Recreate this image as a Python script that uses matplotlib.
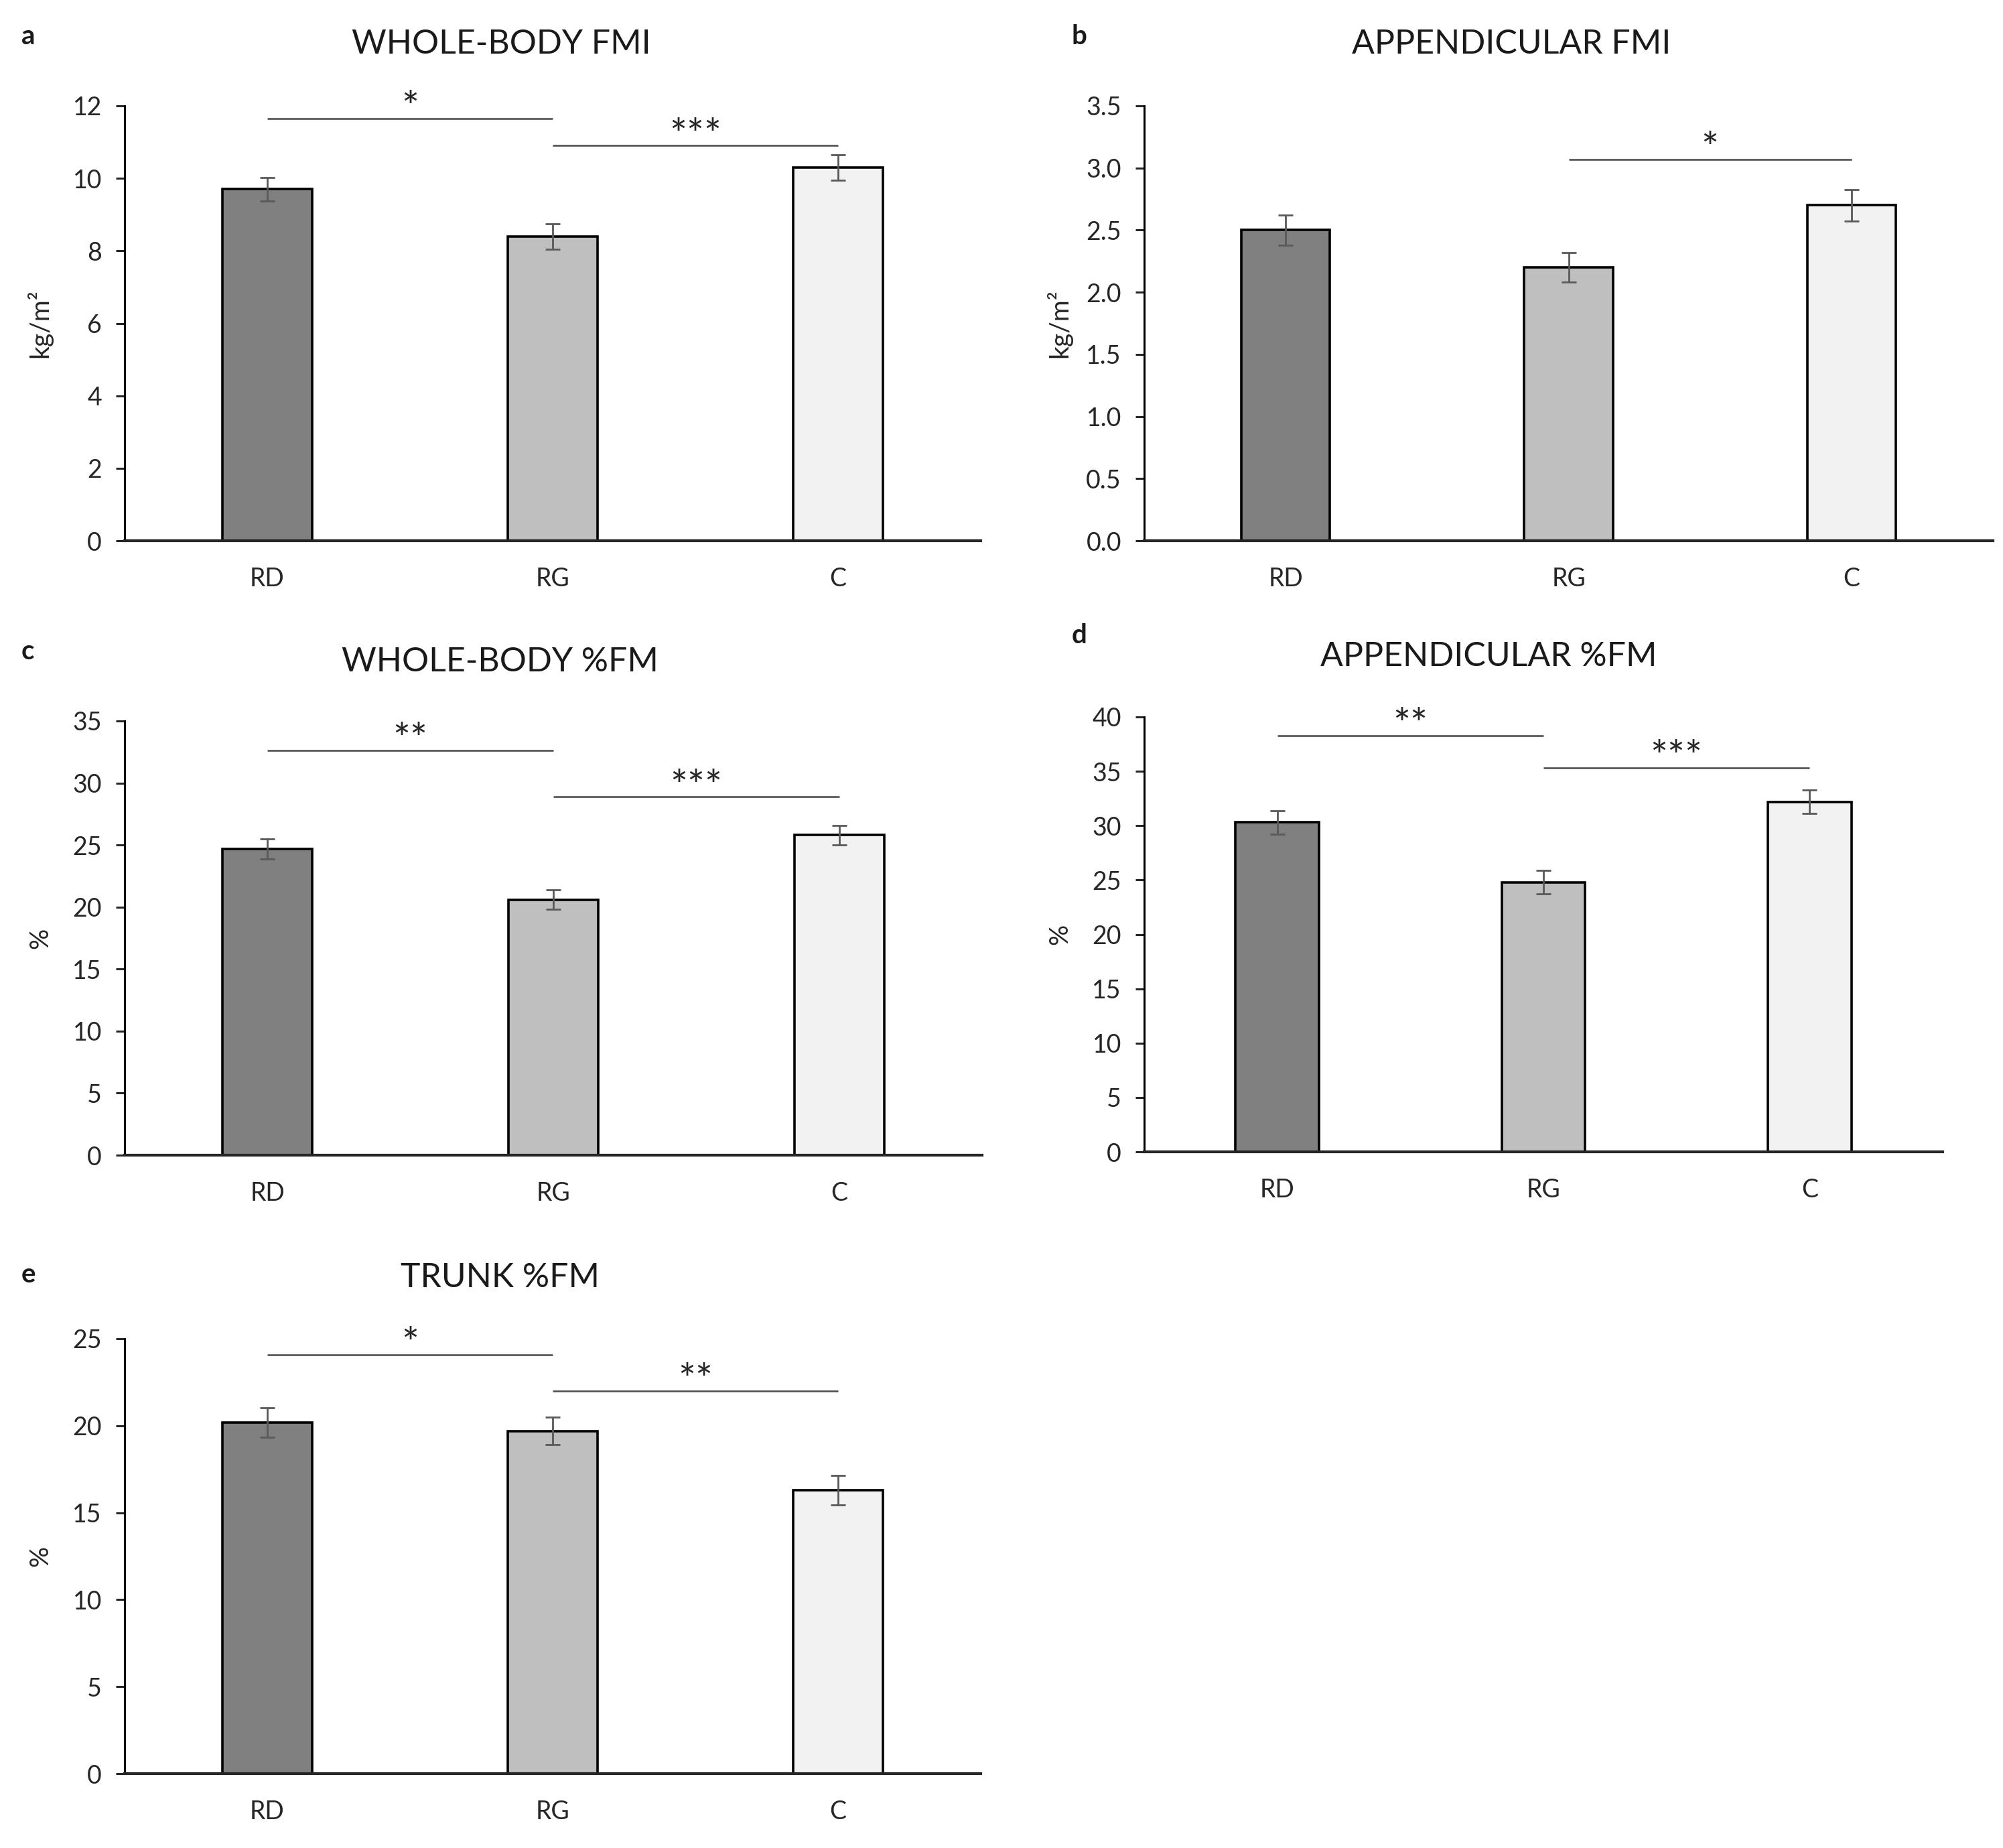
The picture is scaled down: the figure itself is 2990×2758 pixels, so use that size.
import matplotlib.pyplot as plt

plt.rcParams['font.family'] = ['Lato', 'DejaVu Sans']

groups = ['RD', 'RG', 'C']
bar_colors = ['#808080', '#bfbfbf', '#f2f2f2']

# values (mean and error)
wb_fmi = [9.7, 8.4, 10.3]
wb_fmi_err = [0.33, 0.35, 0.35]
app_fmi = [2.5, 2.2, 2.7]
app_fmi_err = [0.12, 0.12, 0.125]
wb_fm = [24.7, 20.6, 25.8]
wb_fm_err = [0.8, 0.8, 0.8]
app_fm = [30.3, 24.8, 32.2]
app_fm_err = [1.1, 1.1, 1.1]
trunk_fm = [20.2, 19.7, 16.3]
trunk_fm_err = [0.85, 0.8, 0.85]

# significance lines: (from group, to group, height, stars)
sig_a = [(0, 1, 11.65, '*'), (1, 2, 10.9, '***')]
sig_b = [(1, 2, 3.07, '*')]
sig_c = [(0, 1, 32.65, '**'), (1, 2, 28.87, '***')]
sig_d = [(0, 1, 38.3, '**'), (1, 2, 35.3, '***')]
sig_e = [(0, 1, 24.07, '*'), (1, 2, 22.0, '**')]

W, H = 2990, 2758
fig = plt.figure(figsize=(W / 100, H / 100), dpi=100)


def panel(box, vals, errs, sigs, ymax, ystep, ylabel, fmt):
    left, top, right, bottom = box
    ax = fig.add_axes([left / W, 1 - bottom / H, (right - left) / W, (bottom - top) / H])
    ax.bar(range(3), vals, width=0.314, color=bar_colors, edgecolor='black', linewidth=2.6, zorder=2)
    ax.errorbar(range(3), vals, yerr=errs, fmt='none', ecolor='#595959', elinewidth=2,
                capsize=8, capthick=2, zorder=3)
    for i, j, h, stars in sigs:
        ax.plot([i, j], [h, h], color='#505050', lw=1.9, solid_capstyle='butt')
        ax.annotate(stars, ((i + j) / 2, h), xytext=(0, -3), textcoords='offset points',
                    ha='center', va='baseline', fontsize=44, color='#262626')
    ax.set_xlim(-0.5, 2.5)
    ax.set_ylim(0, ymax)
    ticks = [k * ystep for k in range(int(round(ymax / ystep)) + 1)]
    ax.set_yticks(ticks)
    ax.set_yticklabels([fmt.format(t) for t in ticks])
    ax.set_xticks(range(3))
    ax.set_xticklabels(groups)
    for s in ['top', 'right']:
        ax.spines[s].set_visible(False)
    ax.spines['left'].set_linewidth(2.2)
    ax.spines['bottom'].set_linewidth(3)
    ax.spines['bottom'].set_color('#262626')
    ax.spines['bottom'].set_zorder(4)
    ax.tick_params(axis='y', length=9.5, width=2.2, labelsize=27, pad=15, colors='#262626')
    ax.tick_params(axis='x', length=0, labelsize=27, pad=28, colors='#262626')
    ax.set_ylabel(ylabel, fontsize=28, color='#262626')
    ax.yaxis.set_label_coords(-108 / (right - left), 0.5)
    return ax


panel((186, 158, 1464, 807), wb_fmi, wb_fmi_err, sig_a, 12, 2, 'kg/m²', '{:.0f}')
panel((1708, 158, 2975, 807), app_fmi, app_fmi_err, sig_b, 3.5, 0.5, 'kg/m²', '{:.1f}')
panel((186, 1076, 1466, 1724), wb_fm, wb_fm_err, sig_c, 35, 5, '%', '{:.0f}')
panel((1708, 1070, 2900, 1719), app_fm, app_fm_err, sig_d, 40, 5, '%', '{:.0f}')
panel((186, 1998, 1464, 2647), trunk_fm, trunk_fm_err, sig_e, 25, 5, '%', '{:.0f}')

titles = [('WHOLE-BODY FMI', 748, 66), ('APPENDICULAR FMI', 2256, 66),
          ('WHOLE-BODY %FM', 746, 988), ('APPENDICULAR %FM', 2222, 980),
          ('TRUNK %FM', 746, 1907)]
for t, x, y in titles:
    fig.text(x / W, 1 - y / H, t, ha='center', va='center', fontsize=36, color='#1a1a1a')

letters = [('a', 32, 55), ('b', 1600, 55), ('c', 32, 973), ('d', 1600, 948), ('e', 32, 1903)]
for t, x, y in letters:
    fig.text(x / W, 1 - y / H, t, ha='left', va='center', fontsize=29, fontweight='bold', color='#1a1a1a')

fig.savefig('out.png', dpi=100, facecolor='white')
